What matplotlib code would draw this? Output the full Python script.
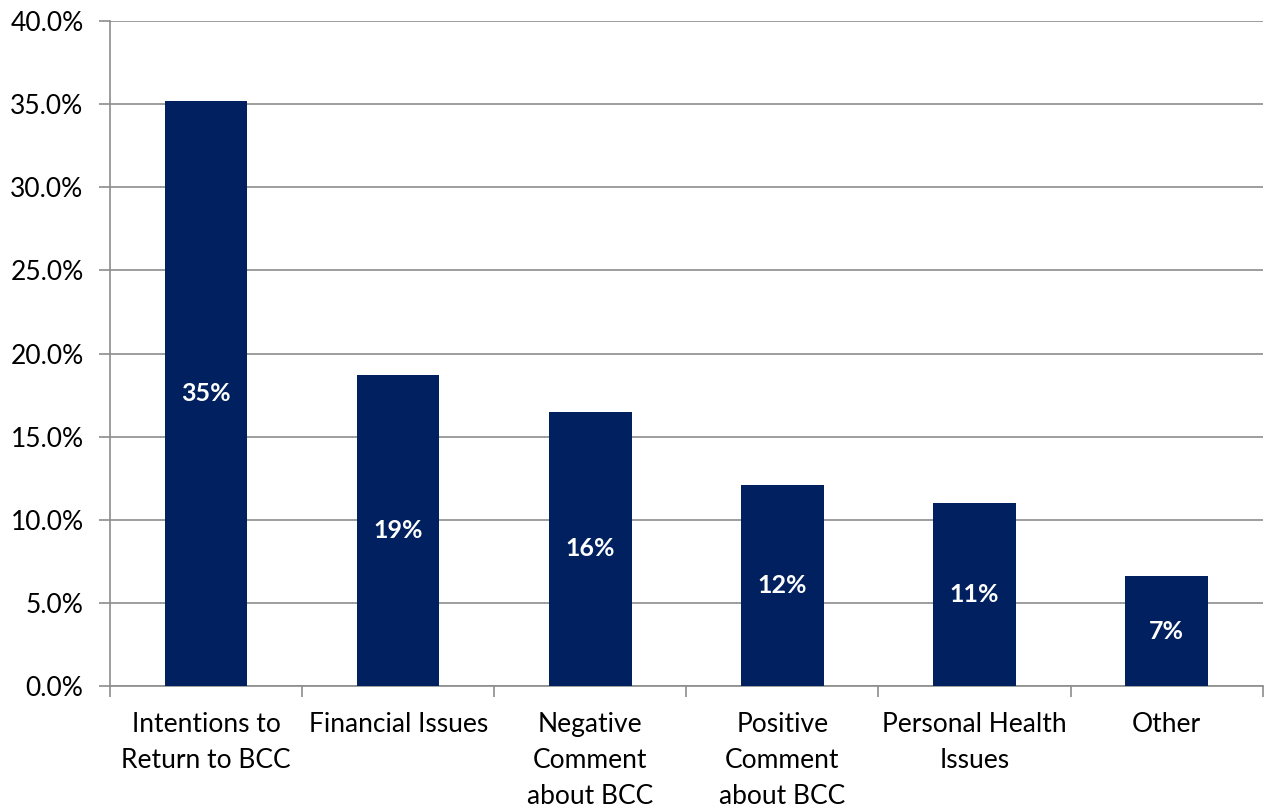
import matplotlib.pyplot as plt
import numpy as np
from matplotlib.ticker import FuncFormatter

categories = ["Intentions to\nReturn to BCC", "Financial Issues", "Negative\nComment\nabout BCC",
              "Positive\nComment\nabout BCC", "Personal Health\nIssues", "Other"]
values = [35.2, 18.7, 16.5, 12.1, 11.0, 6.6]
labels = ["35%", "19%", "16%", "12%", "11%", "7%"]

plt.rcParams['font.family'] = ['Lato', 'DejaVu Sans']

fig = plt.figure(figsize=(12.64, 8.08), dpi=100)
ax = fig.add_axes([0.087, 0.151, 0.912, 0.823])

x = np.arange(len(categories))
bars = ax.bar(x, values, width=0.43, color="#002060", zorder=3)

for b, lab in zip(bars, labels):
    ax.text(b.get_x() + b.get_width() / 2, b.get_height() / 2, lab,
            ha="center", va="center", color="white", fontsize=18, fontweight="bold", zorder=4)

ax.set_xlim(-0.5, len(categories) - 0.5)
ax.set_ylim(0, 40)
ax.set_yticks(np.arange(0, 41, 5))
ax.yaxis.set_major_formatter(FuncFormatter(lambda v, p: f"{v:.1f}%"))
ax.yaxis.grid(True, color="#8c8c8c", linewidth=1.2, zorder=0)

# category labels between boundary ticks
ax.set_xticks(np.arange(-0.5, len(categories), 1.0))
ax.set_xticklabels([])
ax.set_xticks(x, minor=True)
ax.set_xticklabels(categories, minor=True, fontsize=19, linespacing=1.55, va="top")
ax.tick_params(axis="x", which="minor", length=0, pad=19)
ax.tick_params(axis="x", which="major", length=8, color="#8c8c8c", width=1.2)
ax.tick_params(axis="y", length=8, color="#8c8c8c", width=1.2, labelsize=19, pad=11)

for s in ["top", "right"]:
    ax.spines[s].set_visible(False)
for s in ["left", "bottom"]:
    ax.spines[s].set_color("#8c8c8c")
    ax.spines[s].set_linewidth(1.2)

plt.savefig("out.png", dpi=100)
